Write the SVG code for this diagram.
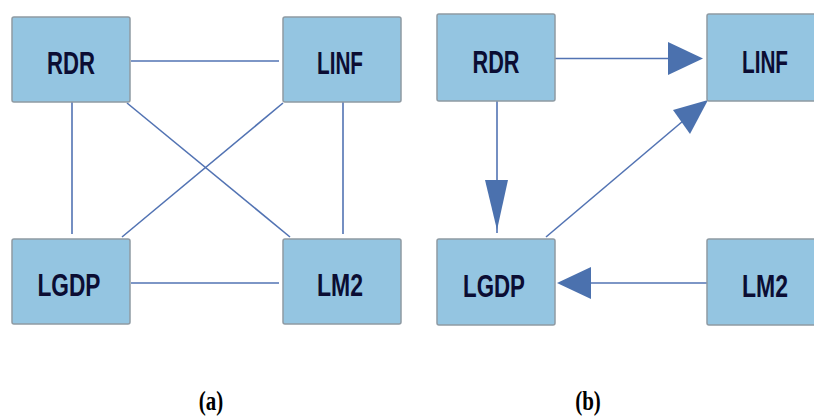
<svg xmlns="http://www.w3.org/2000/svg" width="814" height="417" viewBox="0 0 814 417">
  <style>
    .box { fill: #94c5e1; stroke: #8e9aa3; stroke-width: 1.5; }
    .lbl { font-family: "Liberation Sans", Arial, sans-serif; font-weight: bold; font-size: 32px; fill: #0b0d33; text-anchor: middle; }
    .edge { stroke: #5273b3; stroke-width: 1.6; fill: none; }
    .head { fill: #4b71ae; stroke: none; }
    .cap { font-family: "Liberation Serif", "Times New Roman", serif; font-weight: bold; font-size: 21px; fill: #000; text-anchor: middle; }
  </style>
  <rect width="814" height="417" fill="#ffffff"/>

  <!-- undirected graph, panel (a) -->
  <g id="edges-a">
    <line class="edge" x1="131" y1="61" x2="279" y2="61"/>
    <line class="edge" x1="131" y1="283" x2="279" y2="283"/>
    <line class="edge" x1="72" y1="102" x2="72" y2="234"/>
    <line class="edge" x1="343" y1="102" x2="343" y2="234"/>
    <line class="edge" x1="127" y1="103" x2="290" y2="237"/>
    <line class="edge" x1="283" y1="103" x2="122" y2="237"/>
  </g>
  <g id="a-RDR">
    <rect class="box" x="12" y="17" width="118" height="85" rx="2"/>
    <text class="lbl" x="71" y="74" textLength="48" lengthAdjust="spacingAndGlyphs">RDR</text>
  </g>
  <g id="a-LINF">
    <rect class="box" x="283" y="17" width="118" height="85" rx="2"/>
    <text class="lbl" x="340" y="74" textLength="46" lengthAdjust="spacingAndGlyphs">LINF</text>
  </g>
  <g id="a-LGDP">
    <rect class="box" x="12" y="239" width="118" height="85" rx="2"/>
    <text class="lbl" x="69" y="296" textLength="63" lengthAdjust="spacingAndGlyphs">LGDP</text>
  </g>
  <g id="a-LM2">
    <rect class="box" x="283" y="239" width="118" height="85" rx="2"/>
    <text class="lbl" x="340" y="296" textLength="46" lengthAdjust="spacingAndGlyphs">LM2</text>
  </g>

  <!-- directed graph, panel (b) -->
  <g id="edges-b">
    <line class="edge" x1="555" y1="58.5" x2="670" y2="58.5"/>
    <polygon class="head" points="668,42 703,58.5 668,75"/>
    <line class="edge" x1="497" y1="101" x2="497" y2="233"/>
    <polygon class="head" points="485,180 497,230 508,180"/>
    <line class="edge" x1="707" y1="283" x2="588" y2="283"/>
    <polygon class="head" points="591,267 557,283 591,299"/>
    <line class="edge" x1="546" y1="237" x2="683" y2="121"/>
    <polygon class="head" points="673,110 708,100 690,134"/>
  </g>
  <g id="b-RDR">
    <rect class="box" x="437" y="14" width="118" height="87" rx="2"/>
    <text class="lbl" x="496" y="73" textLength="47" lengthAdjust="spacingAndGlyphs">RDR</text>
  </g>
  <g id="b-LINF">
    <rect class="box" x="707" y="14" width="118" height="87" rx="2"/>
    <text class="lbl" x="765" y="73" textLength="46" lengthAdjust="spacingAndGlyphs">LINF</text>
  </g>
  <g id="b-LGDP">
    <rect class="box" x="437" y="239" width="118" height="86" rx="2"/>
    <text class="lbl" x="494" y="297" textLength="62" lengthAdjust="spacingAndGlyphs">LGDP</text>
  </g>
  <g id="b-LM2">
    <rect class="box" x="707" y="239" width="118" height="86" rx="2"/>
    <text class="lbl" x="765" y="297" textLength="46" lengthAdjust="spacingAndGlyphs">LM2</text>
  </g>

  <!-- captions, slightly stretched vertically -->
  <text class="cap" x="211" y="410" transform="translate(0,-123) scale(1,1.3)">(a)</text>
  <text class="cap" x="588" y="410" transform="translate(0,-123) scale(1,1.3)">(b)</text>
</svg>
